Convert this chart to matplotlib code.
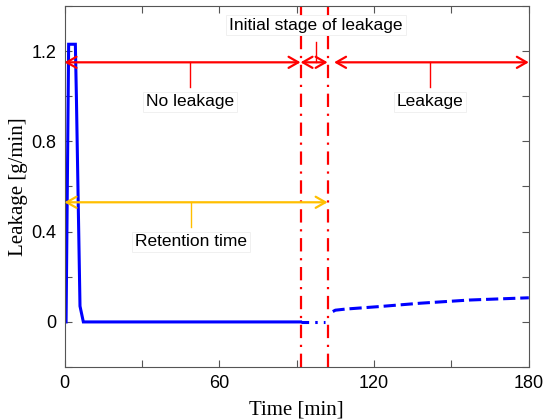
import matplotlib
matplotlib.use('Agg')
import matplotlib.pyplot as plt

# leakage rate over time, split into the three phases
t_pulse = [0, 0.6, 1.6, 4.2, 4.6, 6.0, 7.3, 91.5]
leak_pulse = [0, 0, 1.23, 1.23, 1.0, 0.07, 0, 0]
t_initial = [91.5, 101]
leak_initial = [0, 0]
t_leak = [104, 105, 109, 122, 138, 157, 180]
leak_leak = [0.046, 0.052, 0.057, 0.068, 0.083, 0.097, 0.107]

# phase boundaries and annotation layout
t_start_leak = 91.5
t_detect = 102
x_ticks = [0, 30, 60, 90, 120, 150, 180]
x_labels = ['0', '', '60', '', '120', '', '180']
y_ticks = [-0.2, 0, 0.2, 0.4, 0.6, 0.8, 1.0, 1.2, 1.4]
y_labels = ['', '0', '', '0.4', '', '0.8', '', '1.2', '']

sans = 'Liberation Sans'
serif = 'Liberation Serif'
red = '#ff0000'
gold = '#ffbf00'
blue = '#0000ff'

fig = plt.figure(figsize=(5.44, 4.2), dpi=100)
ax = fig.add_axes([0.1186, 0.126, 0.8535, 0.86])

ax.plot(t_pulse, leak_pulse, color=blue, lw=2.2, solid_joinstyle='miter')
ax.plot(t_initial, leak_initial, color=blue, lw=2.2,
        linestyle=(0, (2.5, 2, 0.8, 2, 0.8, 2)))
ax.plot(t_leak, leak_leak, color=blue, lw=2.2, linestyle=(0, (4, 1.6)))

for tv in (t_start_leak, t_detect):
    ax.axvline(tv, color=red, lw=1.6, linestyle=(0, (6, 3, 1, 3)), zorder=3)

head = '<->,head_length=0.7,head_width=0.4'
y_red = 1.15
y_gold = 0.53
for a, b in [(0, t_start_leak), (t_start_leak, t_detect), (104.5, 180)]:
    ax.annotate('', xy=(b, y_red), xytext=(a, y_red),
                arrowprops=dict(arrowstyle=head, color=red, lw=1.6,
                                shrinkA=0, shrinkB=0), zorder=4)
ax.annotate('', xy=(t_detect, y_gold), xytext=(0, y_gold),
            arrowprops=dict(arrowstyle=head, color=gold, lw=1.6,
                            shrinkA=0, shrinkB=0), zorder=4)

# leader lines from arrows to their captions
ax.plot([48.6, 48.6], [y_red, 1.04], color=red, lw=1)
ax.plot([141.6, 141.6], [y_red, 1.04], color=red, lw=1)
ax.plot([97.5, 97.5], [y_red, 1.24], color=red, lw=1)
ax.plot([49, 49], [y_gold, 0.42], color=gold, lw=1)

box = dict(facecolor='white', edgecolor='#eeeeee', lw=0.6, pad=2)
ax.text(97.5, 1.315, 'Initial stage of leakage', ha='center', va='center',
        fontsize=12.5, family=sans, bbox=box, zorder=5)
ax.text(48.6, 0.975, 'No leakage', ha='center', va='center',
        fontsize=12.5, family=sans, bbox=box, zorder=5)
ax.text(141.6, 0.975, 'Leakage', ha='center', va='center',
        fontsize=12.5, family=sans, bbox=box, zorder=5)
ax.text(49, 0.355, 'Retention time', ha='center', va='center',
        fontsize=12.5, family=sans, bbox=box, zorder=5)

ax.set_xlim(0, 180)
ax.set_ylim(-0.2, 1.4)
ax.set_xticks(x_ticks)
ax.set_xticklabels(x_labels, family=sans, fontsize=13)
ax.set_yticks(y_ticks)
ax.set_yticklabels(y_labels, family=sans, fontsize=13)
ax.tick_params(direction='in', top=True, right=True, length=5,
               color='#555555', pad=6)
for s in ax.spines.values():
    s.set_color('#555555')
    s.set_linewidth(0.8)

ax.set_xlabel('Time [min]', family=serif, fontsize=15, labelpad=6)
ax.set_ylabel('Leakage [g/min]', family=serif, fontsize=15, labelpad=2)

fig.savefig('out.png', dpi=100)
